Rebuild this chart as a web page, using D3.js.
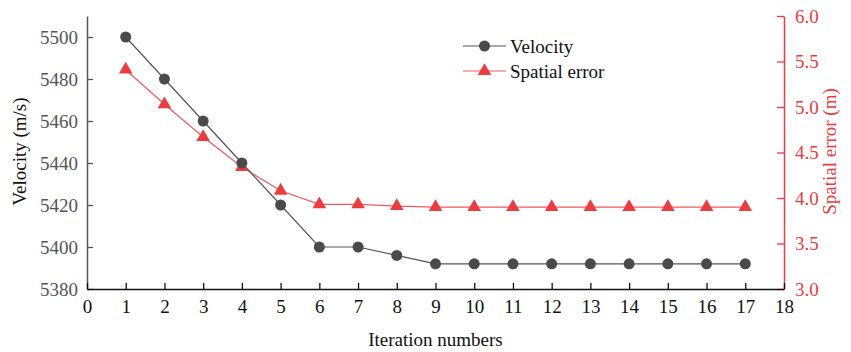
<!DOCTYPE html>
<html>
<head>
<meta charset="utf-8">
<script src="https://cdn.jsdelivr.net/npm/d3@7"></script>
<style>
  body { margin: 0; background: #fff; }
  svg, svg text { font-family: "Times New Roman", Times, "Liberation Serif", "DejaVu Serif", serif; }
</style>
</head>
<body>
<script>
// data
var iterations = [1, 2, 3, 4, 5, 6, 7, 8, 9, 10, 11, 12, 13, 14, 15, 16, 17];
var velocity = [5500, 5480, 5460, 5440, 5420, 5400, 5400, 5396, 5392, 5392, 5392, 5392, 5392, 5392, 5392, 5392, 5392];
var spatialError = [5.41, 5.03, 4.67, 4.34, 4.08, 3.93, 3.93, 3.91, 3.90, 3.90, 3.90, 3.90, 3.90, 3.90, 3.90, 3.90, 3.90];
var xTicks = d3.range(0, 19);
var leftTicks = [5380, 5400, 5420, 5440, 5460, 5480, 5500];
var rightTicks = [3.0, 3.5, 4.0, 4.5, 5.0, 5.5, 6.0];

var W = 851, H = 352;
var margin = {top: 16, right: 67, bottom: 63, left: 87};
var width = W - margin.left - margin.right;
var height = H - margin.top - margin.bottom;

var grey = '#4a4a4a';
var red = '#ee3b40';
var fs = 19;

var svg = d3.select('body').append('svg')
	.attr('width', W)
	.attr('height', H)
  .append('g')
	.attr('transform', 'translate(' + margin.left + ',' + margin.top + ')');

var xScale = d3.scaleLinear().domain([0, 18]).range([0, width]);
var yLeft = d3.scaleLinear().domain([5380, 5510]).range([height, 0]);
var yRight = d3.scaleLinear().domain([3.0, 6.0]).range([height, 0]);

// axes
var xAxis = d3.axisBottom(xScale).tickValues(xTicks).tickFormat(d3.format('d')).tickSizeInner(-6).tickSizeOuter(0).tickPadding(11);
var leftAxis = d3.axisLeft(yLeft).tickValues(leftTicks).tickFormat(d3.format('d')).tickSizeInner(-6).tickSizeOuter(0).tickPadding(9);
var rightAxis = d3.axisRight(yRight).tickValues(rightTicks).tickFormat(d3.format('.1f')).tickSizeInner(-7).tickSizeOuter(0).tickPadding(11);

var gl = svg.append('g').attr('class', 'y axis').call(leftAxis)
	.attr('font-family', null).attr('font-size', fs);
gl.select('.domain').attr('stroke', '#555').attr('stroke-width', 1.5);
gl.selectAll('.tick line').attr('stroke', '#555').attr('stroke-width', 1.3);
gl.selectAll('.tick text').attr('fill', '#555');

var gr = svg.append('g').attr('class', 'y2 axis')
	.attr('transform', 'translate(' + width + ',0)')
	.call(rightAxis)
	.attr('font-family', null).attr('font-size', fs);
gr.select('.domain').attr('stroke', red).attr('stroke-width', 1.5);
gr.selectAll('.tick line').attr('stroke', red).attr('stroke-width', 1.3);
gr.selectAll('.tick text').attr('fill', red);

var gx = svg.append('g').attr('class', 'x axis')
	.attr('transform', 'translate(0,' + height + ')')
	.call(xAxis)
	.attr('font-family', null).attr('font-size', fs);
gx.select('.domain').attr('stroke', '#111').attr('stroke-width', 1.5);
gx.selectAll('.tick line').attr('stroke', '#111').attr('stroke-width', 1.3);
gx.selectAll('.tick text').attr('fill', '#111');

// lines
var velLine = d3.line()
	.x(function(d, i) { return xScale(iterations[i]); })
	.y(function(d) { return yLeft(d); });
var errLine = d3.line()
	.x(function(d, i) { return xScale(iterations[i]); })
	.y(function(d) { return yRight(d); });

svg.append('path').datum(spatialError)
	.attr('d', errLine)
	.attr('fill', 'none')
	.attr('stroke', '#f05a5e')
	.attr('stroke-width', 1.2);

svg.append('path').datum(velocity)
	.attr('d', velLine)
	.attr('fill', 'none')
	.attr('stroke', '#555')
	.attr('stroke-width', 1.2);

var tri = d3.symbol().type(d3.symbolTriangle).size(80);

svg.selectAll('.tri').data(spatialError).enter()
	.append('path')
	.attr('class', 'tri')
	.attr('d', tri)
	.attr('transform', function(d, i) { return 'translate(' + xScale(iterations[i]) + ',' + yRight(d) + ')'; })
	.attr('fill', red);

svg.selectAll('.dot').data(velocity).enter()
	.append('circle')
	.attr('class', 'dot')
	.attr('cx', function(d, i) { return xScale(iterations[i]); })
	.attr('cy', function(d) { return yLeft(d); })
	.attr('r', 5.5)
	.attr('fill', grey);

// legend
var legend = svg.append('g').attr('transform', 'translate(' + (463 - margin.left) + ',' + (46 - margin.top) + ')');
legend.append('line').attr('x1', 0).attr('x2', 43).attr('y1', 0).attr('y2', 0).attr('stroke', '#555').attr('stroke-width', 1.2);
legend.append('circle').attr('cx', 21.5).attr('cy', 0).attr('r', 5.5).attr('fill', grey);
legend.append('text').attr('x', 47).attr('y', 0).attr('dy', '0.35em').style('font-size', fs + 'px').attr('fill', '#111').text('Velocity');

legend.append('line').attr('x1', 0).attr('x2', 43).attr('y1', 25).attr('y2', 25).attr('stroke', '#f05a5e').attr('stroke-width', 1.2);
legend.append('path').attr('d', tri).attr('transform', 'translate(21.5,25)').attr('fill', red);
legend.append('text').attr('x', 47).attr('y', 25).attr('dy', '0.35em').style('font-size', fs + 'px').attr('fill', '#111').text('Spatial error');

// axis titles
svg.append('text')
	.attr('x', xScale(9))
	.attr('y', height + 57)
	.attr('text-anchor', 'middle')
	.style('font-size', fs + 'px')
	.attr('fill', '#111')
	.text('Iteration numbers');

svg.append('text')
	.attr('transform', 'translate(' + (-61) + ',' + (height / 2 - 1) + ') rotate(-90)')
	.attr('text-anchor', 'middle')
	.style('font-size', fs + 'px')
	.attr('fill', '#111')
	.text('Velocity (m/s)');

svg.append('text')
	.attr('transform', 'translate(' + (width + 52) + ',' + (height / 2 - 1) + ') rotate(-90)')
	.attr('text-anchor', 'middle')
	.style('font-size', fs + 'px')
	.attr('fill', red)
	.text('Spatial error (m)');
</script>
</body>
</html>
